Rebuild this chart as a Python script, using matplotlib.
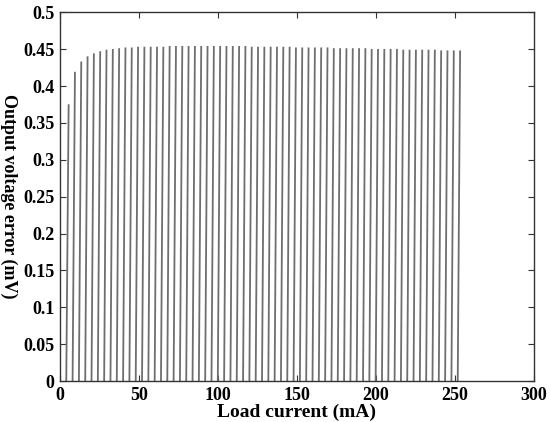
import matplotlib
matplotlib.use("Agg")
import matplotlib.pyplot as plt
import numpy as np

# load current steps (mA) where each tooth starts, and peak error of each tooth (mV)
step_current = [4 * k for k in range(1, 64)]
peak_error = [0.374, 0.418, 0.432, 0.439, 0.443, 0.446, 0.448, 0.449, 0.450, 0.451,
              0.451, 0.452, 0.452, 0.452, 0.452, 0.452, 0.453, 0.453, 0.453, 0.453,
              0.453, 0.453, 0.453, 0.453, 0.453, 0.453, 0.453, 0.453, 0.453, 0.452,
              0.452, 0.452, 0.452, 0.452, 0.452, 0.452, 0.451, 0.451, 0.451, 0.451,
              0.451, 0.451, 0.450, 0.450, 0.450, 0.450, 0.450, 0.450, 0.449, 0.449,
              0.449, 0.449, 0.449, 0.448, 0.448, 0.448, 0.448, 0.448, 0.448, 0.447,
              0.447, 0.447, 0.447]

lean = 1.5  # teeth are drawn slightly slanted, like in the original

xs, ys = [], []
for x0, p in zip(step_current, peak_error):
    xs += [x0, x0 + lean, np.nan]
    ys += [0, p, np.nan]

plt.rcParams['font.family'] = ['Liberation Serif', 'DejaVu Serif']
plt.rcParams['font.weight'] = 'bold'

fig = plt.figure(figsize=(5.5, 4.22), dpi=100)
ax = fig.add_axes([0.109, 0.097, 0.861, 0.874])
ax.plot(xs, ys, color='#6e6e6e', lw=1.3)

ax.set_xlim(0, 300)
ax.set_ylim(0, 0.5)
ax.set_xticks(np.arange(0, 301, 50))
ax.set_yticks(np.round(np.arange(0, 0.501, 0.05), 2))
ax.set_yticklabels(['0', '0.05', '0.1', '0.15', '0.2', '0.25', '0.3', '0.35', '0.4', '0.45', '0.5'])
ax.tick_params(direction='in', top=True, right=True, labelsize=13, length=4,
               color='#333333', pad=4)
for s in ax.spines.values():
    s.set_color('#333333')
    s.set_linewidth(1.0)

ax.set_xlabel('Load current (mA)', fontsize=14, fontweight='bold', labelpad=0)
# the y label reads top to bottom in the original
ax.set_ylabel('Output voltage error (mV)', fontsize=13, fontweight='bold',
              rotation=270, va='top', labelpad=4)

fig.savefig('out.png', dpi=100)
